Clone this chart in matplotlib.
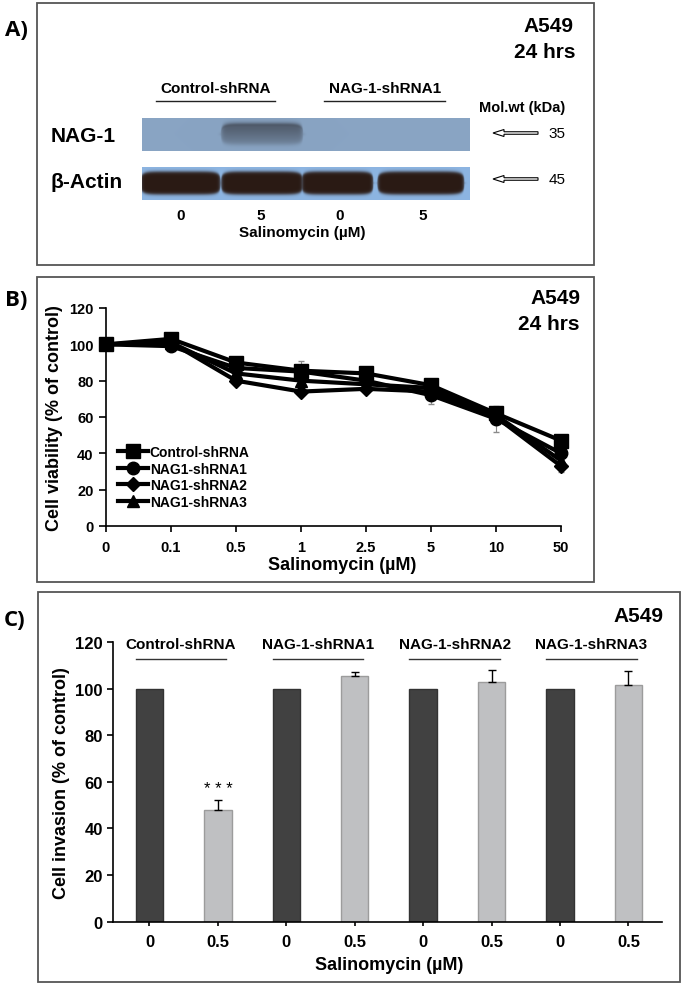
import numpy as np
import matplotlib
matplotlib.use('Agg')
import matplotlib.pyplot as plt
from matplotlib.patches import Rectangle, FancyArrow

plt.rcParams['font.family'] = ['Liberation Sans', 'DejaVu Sans']

W, H = 683, 987

# --- A) western blot
lanes_a = ['0', '5', '0', '5']
groups_a = ['Control-shRNA', 'NAG-1-shRNA1']
nag1_band = [0.0, 0.65, 0.0, 0.0]
actin_band = [1.0, 1.0, 1.0, 1.0]
mol_wt = ['35', '45']

# --- B) cell viability
doses_b = ['0', '0.1', '0.5', '1', '2.5', '5', '10', '50']
ctrl = [100, 103, 90, 85.5, 84, 77.5, 62, 47]
sh1 = [100, 99, 87, 85, 80, 72, 59, 40]
sh2 = [100, 101, 80, 74, 75.5, 74, 60, 33]
sh3 = [100, 101, 84, 80, 78, 76, 61, 36]
ctrl_err = [0, 1, 1, 2, 1, 2, 2, 2]
sh1_err = [0, 2, 2, 6, 2, 5, 7, 3]
sh2_err = [0, 1, 1, 1, 1, 2, 2, 3]
sh3_err = [0, 1, 2, 2, 2, 2, 2, 2]

# --- C) cell invasion
groups_c = ['Control-shRNA', 'NAG-1-shRNA1', 'NAG-1-shRNA2', 'NAG-1-shRNA3']
doses_c = ['0', '0.5', '0', '0.5', '0', '0.5', '0', '0.5']
invasion = [100, 48, 100, 105.5, 100, 103, 100, 101.5]
invasion_err = [0, 4, 0, 1.5, 0, 5, 0, 6]

fig = plt.figure(figsize=(W / 100, H / 100), dpi=100)

# overlay in pixel coordinates for boxes, blot and free text
ov = fig.add_axes([0, 0, 1, 1])
ov.axis('off')

for (x0, y0, x1, y1) in [(37, 4, 594, 266), (37, 278, 594, 583), (38, 593, 680, 983)]:
    ov.add_patch(Rectangle((x0, y0), x1 - x0, y1 - y0, fill=False, ec='#555555', lw=1.3))

for lab, (x, y) in zip(['A)', 'B)', 'C)'], [(16, 31), (16, 300), (15, 620)]):
    ov.text(x, y, lab, fontsize=16, fontweight='bold', family=['Open Sans', 'DejaVu Sans'],
            ha='center', va='center')

# blot strips
lane_x = [180, 261.5, 337, 420.5]
band_hw = [40, 41, 36, 43.5]


def blot(x0, x1, y0, y1, bg, dark, levels, yc, hh, grad=0.0, soft=1.0):
    xs = np.linspace(x0, x1, 3 * int(x1 - x0))
    ys = np.linspace(y0, y1, 3 * int(y1 - y0))
    X, Y = np.meshgrid(xs, ys)
    d = np.zeros_like(X)
    for c, hw, lev in zip(lane_x, band_hw, levels):
        if lev <= 0:
            continue
        mx = 1 / (1 + np.exp(-(hw - np.abs(X - c)) / soft))
        u = np.clip(np.abs(X - c) / hw, 0, 1)
        half = hh * (1 - u ** 8) ** 0.25
        my = 1 / (1 + np.exp(-(half - np.abs(Y - yc)) / soft))
        g = 1 - grad * (Y - (yc - hh)) / (2 * hh)
        top = 0.35 * np.exp(-((Y - (yc - half + 1.5)) / 1.5) ** 2) * grad
        d = np.maximum(d, lev * mx * my * np.clip(g + top, 0, 1.4))
    d = np.clip(d, 0, 1)
    bg = np.array(matplotlib.colors.to_rgb(bg))
    dk = np.array(matplotlib.colors.to_rgb(dark))
    img = bg[None, None, :] * (1 - d[..., None]) + dk[None, None, :] * d[..., None]
    ov.imshow(img, extent=(x0, x1, y1, y0), aspect='auto', interpolation='bilinear', zorder=1)


blot(141.5, 469.5, 119, 152, '#89a4c3', '#2a2a30', nag1_band, 135, 11, grad=0.6, soft=1.3)
blot(141.5, 469.5, 168, 201, '#8db5e2', '#2a1a14', actin_band, 184, 11.5, soft=0.9)
ov.set_xlim(0, W)
ov.set_ylim(H, 0)

ov.text(573, 27, 'A549', fontsize=15, fontweight='bold', ha='right', va='center')
ov.text(576, 52, '24 hrs', fontsize=15, fontweight='bold', ha='right', va='center')
for lab, cx, (lx0, lx1) in zip(groups_a, [216, 385], [(156, 275), (324, 445)]):
    ov.text(cx, 89, lab, fontsize=11, fontweight='bold', ha='center', va='center')
    ov.plot([lx0, lx1], [102, 102], color='#222222', lw=1)
ov.text(522, 108, 'Mol.wt (kDa)', fontsize=10.5, fontweight='bold', ha='center', va='center')
ov.text(51, 137, 'NAG-1', fontsize=15, fontweight='bold', ha='left', va='center')
ov.text(51, 183, 'β-Actin', fontsize=15, fontweight='bold', ha='left', va='center')
for mw, y in zip(mol_wt, [134, 180]):
    ov.add_patch(FancyArrow(538, y, -45, 0, width=2.5, head_width=7, head_length=11,
                            length_includes_head=True, fc='white', ec='black', lw=0.8))
    ov.text(557, y, mw, fontsize=11, ha='center', va='center')
for lab, x in zip(lanes_a, [181, 261, 340, 423]):
    ov.text(x, 216, lab, fontsize=11, fontweight='bold', ha='center', va='center')
ov.text(302, 233, 'Salinomycin (µM)', fontsize=11, fontweight='bold', ha='center', va='center')

# --- panel B
ax_b = fig.add_axes([106 / W, 1 - 527 / H, 455 / W, 218 / H])
ax_b.set_facecolor('none')
x_b = np.arange(len(doses_b))
series = [(ctrl, ctrl_err, 's', 10, 'Control-shRNA'),
          (sh1, sh1_err, 'o', 9, 'NAG1-shRNA1'),
          (sh2, sh2_err, 'D', 7, 'NAG1-shRNA2'),
          (sh3, sh3_err, '^', 9, 'NAG1-shRNA3')]
for vals, err, mk, ms, lab in series:
    ax_b.errorbar(x_b, vals, yerr=err, fmt='none', ecolor='#8a8a8a', elinewidth=0.8,
                  capsize=2, zorder=2, clip_on=False)
for i, (vals, err, mk, ms, lab) in enumerate(series):
    ax_b.plot(x_b, vals, color='black', lw=3, marker=mk, ms=ms, label=lab,
              zorder=6 - i, clip_on=False)
ax_b.set_xlim(0, 7)
ax_b.set_ylim(0, 120)
ax_b.set_xticks(x_b)
ax_b.set_xticklabels(doses_b, fontsize=10.5, fontweight='bold')
ax_b.set_yticks(range(0, 121, 20))
ax_b.set_yticklabels(range(0, 121, 20), fontsize=10.5, fontweight='bold')
ax_b.tick_params(axis='y', direction='out', length=5, width=1.2, pad=4)
ax_b.tick_params(axis='x', direction='out', length=4, width=1.2, pad=6)
for s in ['top', 'right']:
    ax_b.spines[s].set_visible(False)
for s in ['left', 'bottom']:
    ax_b.spines[s].set_linewidth(1.2)
leg = ax_b.legend(loc='center left', bbox_to_anchor=(0.026, 0.225), frameon=False,
                  prop={'size': 10, 'weight': 'bold'}, handlelength=2.2, handletextpad=0.1,
                  labelspacing=0.2, borderpad=0, borderaxespad=0)
ov.text(580, 298, 'A549', fontsize=15, fontweight='bold', ha='right', va='center')
ov.text(580, 324, '24 hrs', fontsize=15, fontweight='bold', ha='right', va='center')
ov.text(55, 418, 'Cell viability (% of control)', fontsize=13, fontweight='bold',
        rotation=90, ha='center', va='center')
ov.text(342, 566, 'Salinomycin (µM)', fontsize=13, fontweight='bold', ha='center', va='center')

# --- panel C
ax_c = fig.add_axes([112.5 / W, 1 - 922.7 / H, 549.5 / W, 279.7 / H])
ax_c.set_facecolor('none')
x_c = np.arange(len(invasion))
fills = ['#414141' if d == '0' else '#bfc0c2' for d in doses_c]
edges = ['#333333' if d == '0' else '#9c9c9c' for d in doses_c]
ax_c.bar(x_c, invasion, width=0.4, color=fills, edgecolor=edges, lw=1, zorder=2)
has_err = [i for i, e in enumerate(invasion_err) if e > 0]
ax_c.errorbar([x_c[i] for i in has_err], [invasion[i] for i in has_err],
              yerr=[[0] * len(has_err), [invasion_err[i] for i in has_err]],
              fmt='none', ecolor='black', elinewidth=1, capsize=3, zorder=3)
ax_c.text(1, 57, '* * *', fontsize=12, ha='center', va='center')
ax_c.set_xlim(-0.54, 7.49)
ax_c.set_ylim(0, 120)
ax_c.set_xticks(x_c)
ax_c.set_xticklabels(doses_c, fontsize=12, fontweight='bold')
ax_c.set_yticks(range(0, 121, 20))
ax_c.set_yticklabels(range(0, 121, 20), fontsize=12, fontweight='bold')
ax_c.tick_params(axis='y', direction='out', length=4, width=1.2, pad=3)
ax_c.tick_params(axis='x', direction='out', length=3, width=1.2, pad=6)
for s in ['top', 'right']:
    ax_c.spines[s].set_visible(False)
for s in ['left', 'bottom']:
    ax_c.spines[s].set_linewidth(1.2)
for i, lab in enumerate(groups_c):
    c = 2 * i + 0.46
    ax_c.text(c, 119.3, lab, fontsize=11, fontweight='bold', ha='center', va='center', clip_on=False)
    ax_c.plot([c - 0.66, c + 0.66], [112.9, 112.9], color='#333333', lw=1, clip_on=False)
ov.text(663, 617, 'A549', fontsize=15, fontweight='bold', ha='right', va='center')
ov.text(61, 783, 'Cell invasion (% of control)', fontsize=13, fontweight='bold',
        rotation=90, ha='center', va='center')
ov.text(389, 965, 'Salinomycin (µM)', fontsize=13, fontweight='bold', ha='center', va='center')

fig.savefig('out.png', dpi=100)
